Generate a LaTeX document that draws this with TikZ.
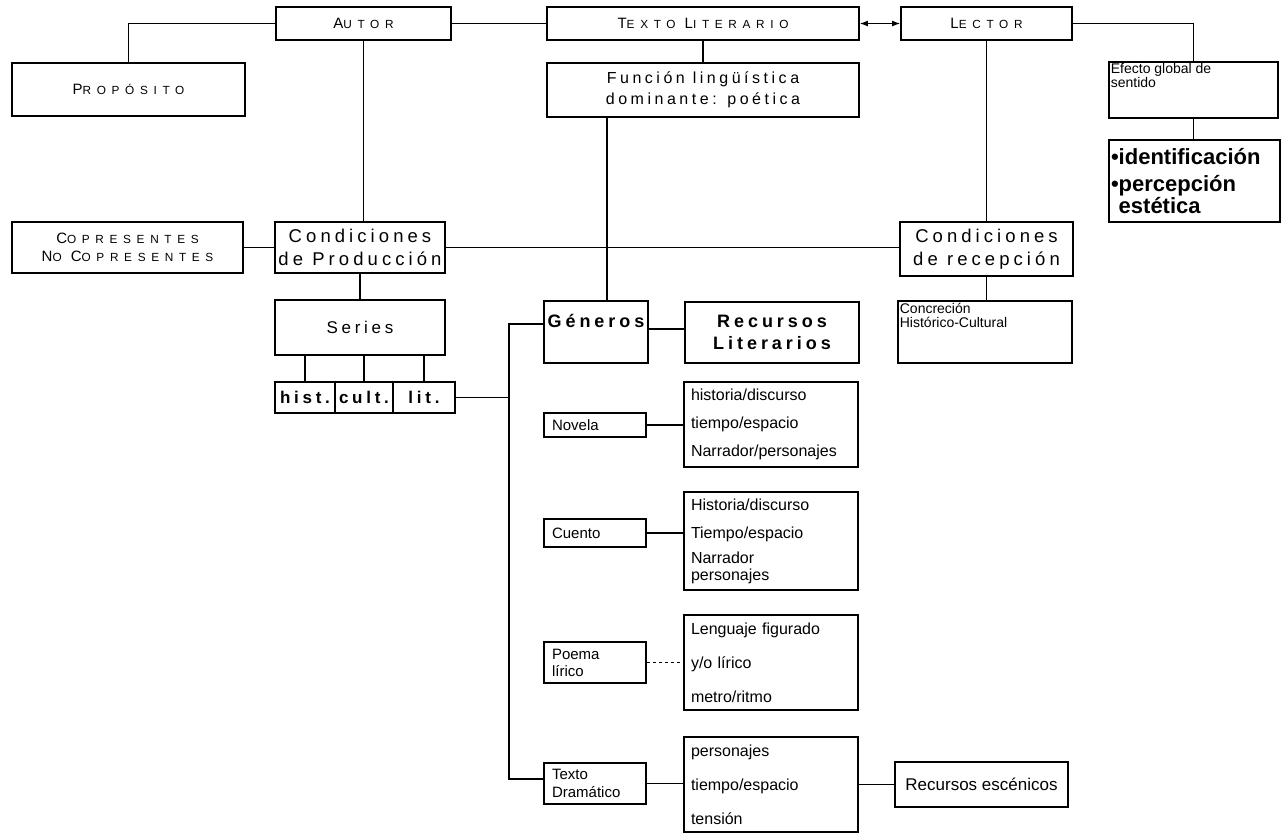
\documentclass[tikz,border=0pt]{standalone}
\usepackage{fontspec}
\usetikzlibrary{arrows.meta}
\setmainfont{Liberation Sans}
\newfontfamily\spaced[LetterSpace=22]{Liberation Sans}
\newfontfamily\spacedcaps[LetterSpace=48]{Liberation Sans}
\newcommand{\scword}[2]{{\fontsize{15}{16}\selectfont #1}{\fontsize{11.8}{16}\selectfont #2}}
\tikzset{
caja/.style={draw, line width=1.6pt, inner sep=0pt},
titulo/.style={caja, align=center, font=\spacedcaps\fontsize{12}{18}\selectfont},
medio/.style={caja, align=center, font=\spaced\fontsize{18.5}{22.5}\selectfont},
lista/.style={caja, align=left, inner xsep=7pt, text width=160pt, minimum width=174pt},
genero/.style={caja, align=left, inner xsep=8pt, text width=86pt, minimum width=102pt, font=\fontsize{15}{18}\selectfont},
nota/.style={align=left, inner sep=2pt, font=\fontsize{14}{14}\selectfont}
}
\begin{document}
\begin{tikzpicture}[x=1pt, y=-1pt, line width=1.3pt]
\useasboundingbox (0,0) rectangle (1284,836);
\node[titulo, minimum width=175pt, minimum height=33pt] (autor) at (363.5,23.5) {\scword{A}{UTOR}};
\node[titulo, minimum width=233pt, minimum height=53pt] (proposito) at (128.5,89.5) {\scword{P}{ROPÓSITO}};
\node[titulo, minimum width=312pt, minimum height=33pt] (texto) at (703,23.5) {\scword{T}{EXTO} \scword{L}{ITERARIO}};
\node[medio, minimum width=312pt, minimum height=54pt, font=\spaced\fontsize{16}{21}\selectfont] (funcion) at (703,90) {Función lingüística\\dominante: poética};
\node[titulo, minimum width=171pt, minimum height=33pt] (lector) at (986.5,23.5) {\scword{L}{ECTOR}};
\node[caja, minimum width=169pt, minimum height=56pt, label={[nota, anchor=north west]north west:Efecto global de\\sentido}] (efecto) at (1193.5,90) {};
\node[caja, minimum width=171pt, minimum height=82pt, align=left, inner xsep=2pt, text width=167pt, font=\bfseries\fontsize{22}{22}\selectfont] (efectos) at (1194.5,181) {•identificación\\[5pt]•percepción\\\hphantom{•}estética};
\node[titulo, minimum width=231pt, minimum height=51pt] (copresentes) at (127.5,247.5) {\scword{C}{OPRESENTES}\\\scword{N}{O} \scword{C}{OPRESENTES}};
\node[medio, minimum width=170pt, minimum height=51pt] (produccion) at (360,247.5) {Condiciones\\de Producción};
\node[medio, minimum width=173pt, minimum height=54pt] (recepcion) at (986.5,249) {Condiciones\\de recepción};
\node[medio, minimum width=170pt, minimum height=55pt, font=\spaced\fontsize{17}{20}\selectfont] (series) at (360,327.5) {Series};
\node[medio, minimum width=60pt, minimum height=31pt, font=\spaced\bfseries\fontsize{17}{20}\selectfont] (hist) at (305,397.5) {hist.};
\node[medio, minimum width=58pt, minimum height=31pt, font=\spaced\bfseries\fontsize{17}{20}\selectfont] (cult) at (364,397.5) {cult.};
\node[medio, minimum width=62pt, minimum height=31pt, font=\spaced\bfseries\fontsize{17}{20}\selectfont] (lit) at (424,397.5) {lit.};
\node[medio, minimum width=104pt, text height=26pt, text depth=36pt, font=\spaced\bfseries\fontsize{18}{22}\selectfont] (generos) at (596,332) {Géneros};
\node[medio, minimum width=174pt, minimum height=61pt, font=\spaced\bfseries\fontsize{18}{22}\selectfont] (recursos) at (772,332.5) {Recursos\\Literarios};
\node[caja, minimum width=174pt, minimum height=62pt, label={[nota, anchor=north west]north west:Concreción\\Histórico-Cultural}] (concrecion) at (985,332) {};
\node[genero, minimum height=24pt] (novela) at (595,425) {Novela};
\node[lista, minimum height=85pt, font=\fontsize{16}{28}\selectfont] (novlista) at (771,424.5) {historia/discurso\\tiempo/espacio\\Narrador/personajes};
\node[genero, minimum height=28pt] (cuento) at (595,533) {Cuento};
\node[lista, minimum height=98pt, font=\fontsize{16}{17}\selectfont] (cuelista) at (771,541) {Historia/discurso\\[11pt]Tiempo/espacio\\[8pt]Narrador\\personajes};
\node[genero, minimum height=41pt, font=\fontsize{15}{17}\selectfont] (poema) at (595,662.5) {Poema\\lírico};
\node[lista, minimum height=95pt, font=\fontsize{16}{34}\selectfont] (poelista) at (771,662.5) {Lenguaje figurado\\y/o lírico\\metro/ritmo};
\node[genero, minimum height=41pt] (drama) at (595,783.5) {Texto\\Dramático};
\node[lista, minimum height=95pt, font=\fontsize{16}{34}\selectfont] (dralista) at (771,784.5) {personajes\\tiempo/espacio\\tensión};
\node[caja, minimum width=173pt, minimum height=45pt, font=\fontsize{17}{20}\selectfont] (escenicos) at (981.5,784.5) {Recursos escénicos};
\coordinate (eje) at (509,0);
\draw (autor.west) -| (proposito.north);
\draw (autor.east) -- (texto.west);
\draw[{Latex[length=8pt,width=6pt]}-{Latex[length=8pt,width=6pt]}] (texto.east) -- (lector.west);
\draw (lector.east) -| (efecto.north);
\draw (efecto.south) -- (efecto.south |- efectos.north);
\draw (texto.south) -- (funcion.north);
\draw (autor.south) -- (autor.south |- produccion.north);
\draw (lector.south) -- (recepcion.north);
\draw (copresentes.east) -- (produccion.west);
\draw (produccion.east) -- (produccion.east -| recepcion.west);
\draw (recepcion.south) -- (recepcion.south |- concrecion.north);
\draw (produccion.south) -- (series.north);
\foreach \s in {hist,cult,lit}
\draw (\s.north) -- (\s.north |- series.south);
\draw ([xshift=11pt]generos.north) -- ([xshift=11pt]generos.north |- funcion.south);
\draw ([yshift=8pt]generos.west) -- ([yshift=8pt]generos.west -| eje) |- ([yshift=4.5pt]drama.west);
\draw (lit.east) -- (lit.east -| eje);
\draw ([yshift=3pt]generos.east) -- ([yshift=3pt]generos.east -| recursos.west);
\draw (novela.east) -- (novela.east -| novlista.west);
\draw (cuento.east) -- (cuento.east -| cuelista.west);
\draw[dashed] (poema.east) -- (poema.east -| poelista.west);
\draw (drama.east) -- (drama.east -| dralista.west);
\draw (dralista.east |- escenicos.west) -- (escenicos.west);
\end{tikzpicture}
\end{document}
